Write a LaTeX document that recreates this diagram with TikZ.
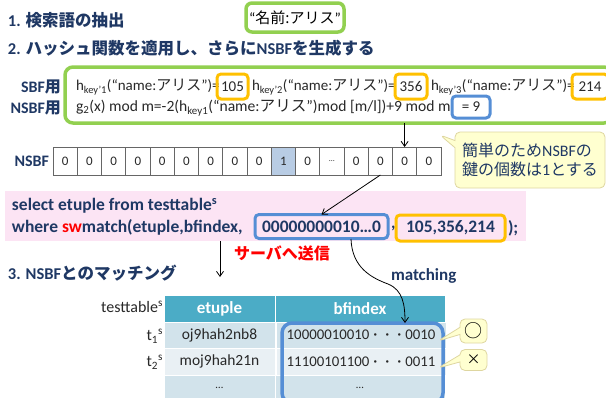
\documentclass[tikz,border=0pt]{standalone}
\usepackage{fontspec}
\setmainfont{Carlito}
\newfontfamily\jpf{Noto Sans CJK JP}
\usetikzlibrary{arrows.meta,shapes.callouts,calc}
\definecolor{navy}{RGB}{31,56,100}
\definecolor{grn}{RGB}{146,208,80}
\definecolor{org}{RGB}{255,192,0}
\definecolor{blu}{RGB}{85,142,213}
\definecolor{pinkbg}{RGB}{252,228,244}
\definecolor{tealh}{RGB}{75,172,198}
\definecolor{rowa}{RGB}{210,227,235}
\definecolor{rowb}{RGB}{233,240,244}
\definecolor{cellhl}{RGB}{184,204,228}
\definecolor{bubfill}{RGB}{255,255,208}
\definecolor{bubdraw}{RGB}{222,214,160}
\definecolor{txt}{RGB}{40,40,40}
\newcommand\fs[1]{\fontsize{#1}{#1}\selectfont}
\newcommand\jp[1]{{\jpf #1}}
\begin{document}
\begin{tikzpicture}[x=1pt,y=-1pt,
  every node/.style={inner sep=0pt, outer sep=0pt},
  ttl/.style={anchor=west, text=navy, font=\bfseries\fs{16.5}},
  lbl/.style={anchor=east, text=navy, font=\bfseries\fs{16}},
  eq/.style={anchor=west, text=txt, font=\fs{15}},
  obox/.style={draw=org, line width=3pt, rounded corners=4pt},
  bbox/.style={draw=blu, line width=3pt, rounded corners=4pt},
  cell/.style={draw=gray!80!black, line width=0.6pt, minimum width=24.25pt, minimum height=28pt, font=\fs{13}, text=txt},
  arr/.style={draw=black, line width=0.8pt, -{Straight Barb[length=5pt,width=7pt]}},
  bub/.style={rectangle callout, fill=bubfill, draw=bubdraw, line width=0.8pt, rounded corners=5pt},
  qtxt/.style={anchor=west, text=navy, font=\bfseries\fs{17.5}},
  tcell/.style={draw=white, line width=1pt},
  ctxt/.style={text=txt, font=\fs{15.5}},
]
\useasboundingbox (0,0) rectangle (606,397);
\clip (0,0) rectangle (606,397);

% step 1
\node[ttl] (t1) at (8,20) {1. \jp{検索語の抽出}};
\node[draw=grn, line width=3.5pt, rounded corners=6pt, minimum width=98pt, minimum height=29pt, fill=white, font=\fs{15}, text=black] (kw) at (295,17.5) {“\jp{名前:アリス}”};

% step 2
\node[ttl] (t2) at (8,48) {2. \jp{ハッシュ関数を適用し、さらに}NSBF\jp{を生成する}};
\node[draw=grn, line width=3.5pt, rounded corners=8pt, minimum width=547pt, minimum height=56pt] (gb) at (338.5,95) {};
\node[lbl] (sbf) at (61,87) {SBF\jp{用}};
\node[lbl] (nsbf) at (61,108) {NSBF\jp{用}};

\node[eq] (e1) at (76,87) {h\textsubscript{key'1}(“name:\jp{アリス}”)=};
\node[obox, minimum width=31pt, minimum height=25pt, font=\fs{15}, text=txt] (b1) at (232.5,86.5) {105};
\node[eq] (e2) at (252,87) {h\textsubscript{key'2}(“name:\jp{アリス}”)=};
\node[obox, minimum width=32pt, minimum height=25pt, font=\fs{15}, text=txt] (b2) at (411,86.5) {356};
\node[eq] (e3) at (431,87) {h\textsubscript{key'3}(“name:\jp{アリス}”)=};
\node[obox, minimum width=36pt, minimum height=25pt, font=\fs{15}, text=txt] (b3) at (590,86.5) {214};

\node[eq, font=\fs{15.6}] (e4) at (76,108) {g\textsubscript{2}(x) mod m=-2(h\textsubscript{key1}(“name:\jp{アリス}”)mod [m/l])+9 mod m};
\node[bbox, minimum width=38pt, minimum height=22pt, font=\fs{15}, text=txt] (b9) at (471,107) {= 9\hspace{8pt}};

% NSBF
\node[lbl] (nl) at (49,161) {NSBF};
\foreach \v/\f [count=\i from 0] in {0/white,0/white,0/white,0/white,0/white,0/white,0/white,0/white,0/white,1/cellhl,0/white,{\fs{8}…}/white,0/white,0/white,0/white,0/white}
  \node[cell, fill=\f] (c\i) at ({53+24.25*\i+12.125},161) {\v};

\node[bub, minimum width=150pt, minimum height=56pt, callout absolute pointer={(440,135)}, align=left, text=navy, font=\fontsize{16}{19}\selectfont] (bub) at (530,160) {\jp{簡単のため}NSBF\jp{の}\\\jp{鍵の個数は}1\jp{とする}};

\draw[arr] (gb.south -| c14) -- (c14.north);

% query
\node[fill=pinkbg, minimum width=521pt, minimum height=50pt] (pink) at (265.5,216) {};
\node[qtxt] (q1) at (12,206) {select etuple from testtable\textsuperscript{s}};
\node[qtxt] (q2) at (12,227) {where \textcolor{red}{sw}match(etuple,bfindex,};
\node[bbox, minimum width=133pt, minimum height=24pt, font=\bfseries\fs{17.5}, text=navy] (qb) at (321.5,226.5) {00000000010…0};
\node[qtxt] (qc) at (391,228) {,};
\node[obox, minimum width=109pt, minimum height=26pt, font=\bfseries\fs{17.5}, text=navy] (qo) at (450.5,228) {105,356,214};
\node[qtxt] (qe) at (508,228) {);};

\draw[arr] (c13.south) -- (qb.north);

\node[text=red, font=\bfseries\fs{16}] (send) at (282,253) {\jp{サーバへ送信}};
\coordinate (a3) at (220,277);
\draw[arr] (pink.south -| a3) -- (a3);

% step 3
\node[ttl] (t3) at (8,273) {3. NSBF\jp{とのマッチング}};
\node[anchor=west, text=navy, font=\bfseries\fs{17}] (mt) at (391,276) {matching};

\node[tcell, fill=tealh, minimum width=111pt, minimum height=27pt, text=white, font=\bfseries\fs{17}] (h1) at (219.5,308.5) {etuple};
\node[tcell, fill=tealh, minimum width=170pt, minimum height=27pt, text=white, font=\bfseries\fs{17}] (h2) at (360,308.5) {bfindex};
\node[tcell, fill=rowa, minimum width=111pt, minimum height=26pt, ctxt] (r1a) at (219.5,335) {oj9hah2nb8};
\node[tcell, fill=rowa, minimum width=170pt, minimum height=26pt, ctxt, font=\fs{14.8}] (r1b) at (361,335) {10000010010{\jpf\fs{12}・・・}0010};
\node[tcell, fill=rowb, minimum width=111pt, minimum height=27pt, ctxt] (r2a) at (219.5,361.5) {moj9hah21n};
\node[tcell, fill=rowb, minimum width=170pt, minimum height=27pt, ctxt, font=\fs{14.8}] (r2b) at (361,361.5) {11100101100{\jpf\fs{12}・・・}0011};
\node[tcell, fill=rowa, minimum width=111pt, minimum height=26pt, ctxt] (r3a) at (219.5,388) {\fs{11}…};
\node[tcell, fill=rowa, minimum width=170pt, minimum height=26pt, ctxt] (r3b) at (360,388) {\fs{11}…};

\node[anchor=east, ctxt, font=\fs{16}] (tt) at (163,307) {testtable\textsuperscript{s}};
\node[anchor=east, ctxt, font=\fs{16}] (tr1) at (163,336) {t\textsubscript{1}\textsuperscript{s}};
\node[anchor=east, ctxt, font=\fs{16}] (tr2) at (163,362) {t\textsubscript{2}\textsuperscript{s}};

\node[draw=blu, line width=3.5pt, rounded corners=10pt, minimum width=161pt, minimum height=80pt] (bfb) at (362.5,363) {};

\coordinate (m0) at (351,239);
\coordinate (m1) at (405,323);
\draw[arr] (m0) .. controls (352,268) and (372,278) .. (388,284) .. controls (403,290) and (405,305) .. (m1);

\node[bub, minimum width=27pt, minimum height=24pt, callout absolute pointer={(438,341)}, font=\fs{18}, text=black] (ok) at (473.5,331) {\jp{○}};
\node[bub, minimum width=27pt, minimum height=21pt, callout absolute pointer={(438,368)}, font=\fs{14}, text=black] (ng) at (473.5,360) {\jp{×}};
\end{tikzpicture}
\end{document}
